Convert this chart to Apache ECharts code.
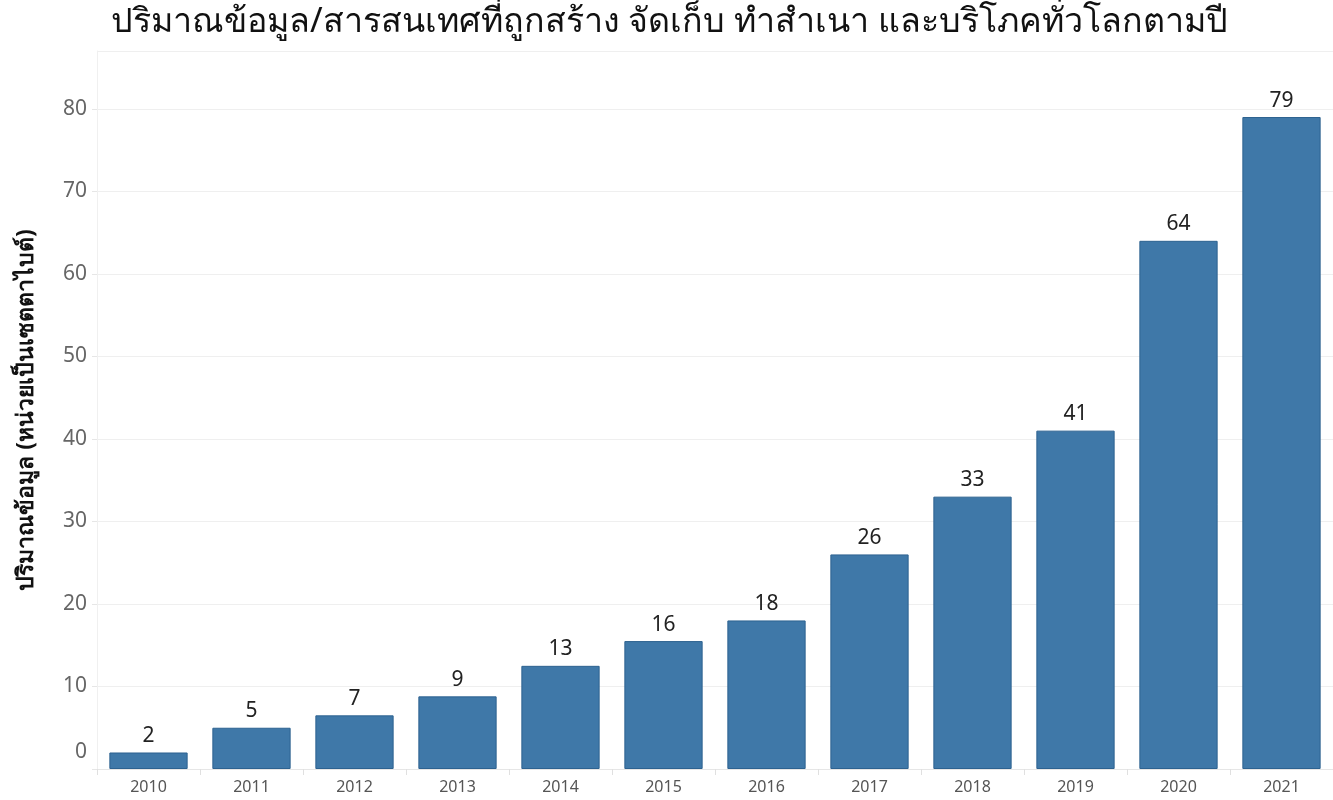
<!DOCTYPE html>
<html>
<head>
<meta charset="utf-8">
<script src="https://cdn.jsdelivr.net/npm/echarts@6/dist/echarts.min.js"></script>
<style>
  html, body { margin: 0; padding: 0; background: #fff; }
  #main { width: 1333px; height: 800px; }
</style>
</head>
<body>
<div id="main"></div>
<script>
// data
var years = ['2010', '2011', '2012', '2013', '2014', '2015', '2016', '2017', '2018', '2019', '2020', '2021']
var volumes = [2, 5, 6.5, 8.8, 12.5, 15.5, 18, 26, 33, 41, 64, 79]
var titleText = 'ปริมาณข้อมูล/สารสนเทศที่ถูกสร้าง จัดเก็บ ทำสำเนา และบริโภคทั่วโลกตามปี'
var yName = 'ปริมาณข้อมูล (หน่วยเป็นเซตตาไบต์)'

var myChart = echarts.init(document.getElementById('main'))
var fontFam = '"Noto Sans", "DejaVu Sans", sans-serif'

var option = {
  animation: false,
  textStyle: { fontFamily: fontFam },
  title: {
    text: titleText,
    left: 106,
    top: 0,
    textStyle: { fontSize: 34, fontWeight: 'normal', color: '#111', fontFamily: fontFam }
  },
  grid: {
    left: 97,
    right: 0,
    top: 51,
    bottom: 31,
    containLabel: false
  },
  xAxis: {
    type: 'category',
    data: years,
    axisLine: { lineStyle: { color: '#e6e6e6' } },
    axisTick: { show: true, length: 6, lineStyle: { color: '#e0e0e0' } },
    axisLabel: { fontSize: 16, color: '#555', margin: 10 }
  },
  yAxis: {
    type: 'value',
    min: 0,
    max: 87,
    interval: 10,
    name: yName,
    nameLocation: 'middle',
    nameGap: 59,
    nameTextStyle: { fontSize: 23, color: '#111', fontWeight: 'bold' },
    axisLine: { show: true, lineStyle: { color: '#f0f0f0' } },
    axisTick: { show: true, length: 5, lineStyle: { color: '#e6e6e6' } },
    splitLine: { lineStyle: { color: '#efefef' } },
    axisLabel: {
      fontSize: 21,
      color: '#666',
      margin: 10,
      showMaxLabel: false,
      formatter: function (v) {
        if (v === 0) return '{z|0}'
        return v % 10 === 0 ? String(v) : ''
      },
      rich: {
        z: { fontSize: 21, color: '#666', padding: [0, 0, 34, 0] }
      }
    }
  },
  series: [
    {
      name: yName,
      type: 'bar',
      data: volumes,
      barWidth: '76%',
      itemStyle: {
        color: '#3f78a8',
        borderColor: '#2d6290',
        borderWidth: 1
      },
      label: {
        show: true,
        position: 'top',
        distance: 6,
        fontSize: 21,
        color: '#222',
        formatter: function (p) { return Math.round(p.value) }
      }
    }
  ]
}

myChart.setOption(option)
</script>
</body>
</html>
